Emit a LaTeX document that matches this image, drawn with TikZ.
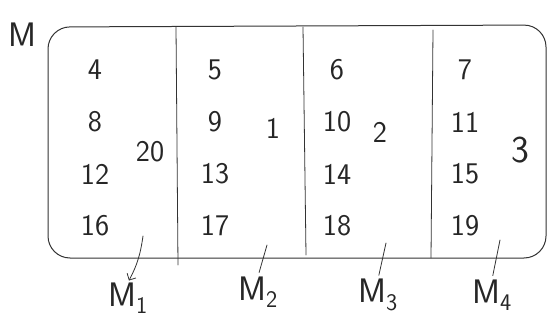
\documentclass[tikz,border=0pt]{standalone}
\usepackage{tikz}
\usetikzlibrary{arrows.meta, positioning, calc}

\begin{document}
\begin{tikzpicture}[x=1pt, y=-1pt,
    cellnum/.style={font=\sffamily\fontsize{30}{34}\selectfont, text=black!85, inner sep=0pt},
    partlbl/.style={font=\sffamily\fontsize{34}{38}\selectfont, text=black!85, inner sep=0pt},
    ink/.style={draw=black!80, line width=1pt, line cap=round}]
  \useasboundingbox (0,0) rectangle (548,320);
  % outer box M, rounded corners
  \draw[ink] (48,258) [rounded corners=22] -- (48,27) -- (546,25) -- (546,258) -- cycle;
  % column dividers
  \draw[ink, line width=0.8pt] (176,27) -- (178,265);
  \draw[ink, line width=0.8pt] (303,27) -- (306,255);
  \draw[ink, line width=0.8pt] (433,30) -- (431,258);
  % numbers per column: x, top entry
  \foreach \cx/\n [count=\c] in {95/4, 215/5, 337/6, 465/7} {
    \foreach \r in {0,1,2,3} {
      \pgfmathtruncatemacro{\v}{\n+4*\r}
      \node[cellnum] (n\c\r) at (\cx, 70+52*\r) {\v};
    }
  }
  % bucket numbers
  \node[cellnum] (s1) at (150,152) {20};
  \node[cellnum] (s2) at (273,128) {1};
  \node[cellnum] (s3) at (380,132) {2};
  \node[cellnum, font=\sffamily\fontsize{38}{40}\selectfont] (s4) at (520,150) {3};
  % labels
  \node[partlbl] (M) at (22,35) {M};
  \node[partlbl] (m1) at (128,298) {M\textsubscript{1}};
  \node[partlbl] (m2) at (258,292) {M\textsubscript{2}};
  \node[partlbl] (m3) at (378,295) {M\textsubscript{3}};
  \node[partlbl] (m4) at (492,295) {M\textsubscript{4}};
  % pointers from the box to the labels
  \coordinate (p1) at (143,236);
  \coordinate (p2) at (267,245);
  \coordinate (p3) at (386,243);
  \coordinate (p4) at (500,240);
  \draw[ink, line width=0.8pt, shorten >=2pt, -{Straight Barb[length=5pt]}] (p1) to[bend left=10] (m1.north);
  \draw[ink, line width=0.8pt, shorten >=4pt] (p2) -- (m2.north);
  \draw[ink, line width=0.8pt, shorten >=4pt] (p3) -- (m3.north);
  \draw[ink, line width=0.8pt, shorten >=4pt] (p4) -- (m4.north);
\end{tikzpicture}
\end{document}
